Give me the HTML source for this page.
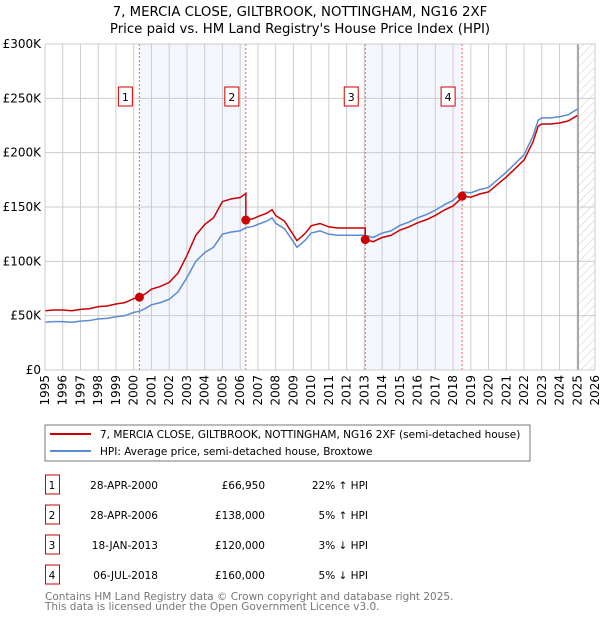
<!DOCTYPE html>
<html><head><meta charset="utf-8"><style>
body{margin:0;width:600px;height:620px;background:#fff;font-family:"DejaVu Sans","Liberation Sans",sans-serif;overflow:hidden}
svg text{font-family:"DejaVu Sans","Liberation Sans",sans-serif}
</style></head><body>
<svg id="c" width="600" height="620" xmlns="http://www.w3.org/2000/svg">
<defs><pattern id="hatch" width="6" height="6" patternUnits="userSpaceOnUse" patternTransform="rotate(45)"><line x1="0" y1="0" x2="0" y2="6" stroke="#ccc" stroke-width="1"/></pattern></defs>
<text x="300" y="16" text-anchor="middle" font-size="13.3">7, MERCIA CLOSE, GILTBROOK, NOTTINGHAM, NG16 2XF</text>
<text x="300" y="33" text-anchor="middle" font-size="13.3">Price paid vs. HM Land Registry's House Price Index (HPI)</text>
<g id="plot"></g>
<rect x="45" y="425" width="485" height="36" fill="#fff" stroke="#777"/>
<line x1="50" y1="434" x2="91" y2="434" stroke="#cc0000" stroke-width="2"/>
<text x="100" y="438" font-size="10.5">7, MERCIA CLOSE, GILTBROOK, NOTTINGHAM, NG16 2XF (semi-detached house)</text>
<line x1="50" y1="451" x2="91" y2="451" stroke="#5b8bd0" stroke-width="2"/>
<text x="100" y="455" font-size="10.5">HPI: Average price, semi-detached house, Broxtowe</text>
<g id="table" font-size="10.5"></g>
<text x="45" y="600" font-size="10.5" fill="#777">Contains HM Land Registry data © Crown copyright and database right 2025.</text>
<text x="45" y="610" font-size="10.5" fill="#777">This data is licensed under the Open Government Licence v3.0.</text>
</svg>
<script>
const hpiYears=[1995,1995.5,1996,1996.5,1997,1997.5,1998,1998.5,1999,1999.5,2000,2000.32,2000.7,2001,2001.5,2002,2002.5,2003,2003.5,2004,2004.5,2005,2005.5,2006,2006.32,2006.7,2007,2007.5,2007.8,2008,2008.5,2009,2009.2,2009.5,2009.7,2010,2010.5,2011,2011.5,2012,2012.5,2013,2013.05,2013.5,2014,2014.5,2015,2015.5,2016,2016.5,2017,2017.5,2018,2018.51,2019,2019.5,2020,2020.5,2021,2021.5,2022,2022.5,2022.8,2023,2023.5,2024,2024.5,2025];
const hpiValues=[44000,44500,44500,44000,45000,45500,47000,47500,49000,50000,53000,54000,57000,60000,62000,65000,72000,85000,100000,108000,113000,125000,127000,128000,131000,132000,134000,137000,140000,135000,130000,118000,113000,117000,120000,126000,128000,125000,124000,124000,124000,124000,124000,122000,126000,128000,133000,136000,140000,143000,147000,152000,156000,164000,163000,166000,168000,175000,182000,190000,198000,215000,230000,232000,232000,233000,235000,240000];
const saleDates=[2000.32,2006.32,2013.05,2018.51];
const salePrices=[66950,138000,120000,160000];
const saleLabels=["1","2","3","4"];
const saleDateText=["28-APR-2000","28-APR-2006","18-JAN-2013","06-JUL-2018"];
const salePriceText=["£66,950","£138,000","£120,000","£160,000"];
const saleHpiText=["22% ↑ HPI","5% ↑ HPI","3% ↓ HPI","5% ↓ HPI"];
const yTicks=[0,50000,100000,150000,200000,250000,300000];
const yTickLabels=["£0","£50K","£100K","£150K","£200K","£250K","£300K"];
const xTicks=[1995,1996,1997,1998,1999,2000,2001,2002,2003,2004,2005,2006,2007,2008,2009,2010,2011,2012,2013,2014,2015,2016,2017,2018,2019,2020,2021,2022,2023,2024,2025,2026];
const dataEnd=2025.05;

const NS="http://www.w3.org/2000/svg";
const X0=45,X1=595,Y0=370,Y1=44;
const xs=t=>X0+(t-1995)/(2026-1995)*(X1-X0);
const ys=v=>Y0-v/300000*(Y0-Y1);
const plot=document.getElementById('plot');
function mk(tag,attrs,parent){const e=document.createElementNS(NS,tag);for(const k in attrs)e.setAttribute(k,attrs[k]);(parent||plot).appendChild(e);return e;}
function hpiAt(t){for(let i=0;i<hpiYears.length-1;i++){if(t<=hpiYears[i+1]){const f=(t-hpiYears[i])/(hpiYears[i+1]-hpiYears[i]);return hpiValues[i]+f*(hpiValues[i+1]-hpiValues[i]);}}return hpiValues[hpiValues.length-1];}

for(let i=0;i<saleDates.length;i+=2){
  const b=mk('rect',{x:xs(saleDates[i]),y:Y1,width:xs(saleDates[i+1])-xs(saleDates[i]),height:Y0-Y1,fill:'#f3f6fd'});
  
  
}
const h=mk('rect',{x:xs(dataEnd),y:Y1,width:X1-xs(dataEnd),height:Y0-Y1,fill:'url(#hatch)'});


yTicks.forEach((v,i)=>{
  const l=mk('line',{x1:X0,x2:X1,y1:ys(v),y2:ys(v),stroke:'#ccc'});
  
  
  const t=mk('text',{x:X0-4,y:ys(v)+4,'text-anchor':'end','font-size':12});
  t.textContent=yTickLabels[i];
  
  
});
xTicks.forEach(y=>{
  const l=mk('line',{x1:xs(y),x2:xs(y),y1:Y1,y2:Y0,stroke:'#ccc'});
  
  
  const t=mk('text',{x:0,y:0,'text-anchor':'end','font-size':12,transform:`translate(${xs(y)+4},${Y0+5}) rotate(-90)`});
  t.textContent=y;
  
  
});
const el=mk('line',{x1:xs(dataEnd),x2:xs(dataEnd),y1:Y1,y2:Y0,stroke:'#999','stroke-width':1.5});


saleDates.forEach(d=>{
  const l=mk('line',{x1:xs(d),x2:xs(d),y1:Y1,y2:Y0,stroke:'#f06060','stroke-dasharray':'2,2'});
  
  
});
const hp=mk('polyline',{points:hpiYears.map((t,i)=>xs(t)+','+ys(hpiValues[i])).join(' '),fill:'none',stroke:'#5b8bd0','stroke-width':1.5});


function factorAt(t){let k=0;for(let i=0;i<saleDates.length;i++)if(t>=saleDates[i])k=i;return salePrices[k]/hpiAt(saleDates[k]);}
const rpts=[];
hpiYears.forEach((t,i)=>{
  saleDates.forEach((d,k)=>{if(k>0&&t>=d&&(i===0||hpiYears[i-1]<d)){rpts.push([d,hpiAt(d)*salePrices[k-1]/hpiAt(saleDates[k-1])]);rpts.push([d,salePrices[k]]);}});
  rpts.push([t,hpiValues[i]*factorAt(t)]);
});
const rp=mk('polyline',{points:rpts.map(p=>xs(p[0])+','+ys(p[1])).join(' '),fill:'none',stroke:'#cc0000','stroke-width':1.5});


saleDates.forEach((d,i)=>{
  const c=mk('circle',{cx:xs(d),cy:ys(salePrices[i]),r:4.5,fill:'#cc0000'});
  
  
  const r=mk('rect',{x:xs(d)-21,y:87,width:14,height:19,fill:'#fff',stroke:'#cc0000'});
  
  
  const t=mk('text',{x:xs(d)-14,y:101,'text-anchor':'middle','font-size':11});
  t.textContent=saleLabels[i];
  
  
});
const fr=mk('rect',{x:X0,y:Y1,width:X1-X0,height:Y0-Y1,fill:'none',stroke:'#ccc'});


const tb=document.getElementById('table');
saleDates.forEach((d,i)=>{
  const cy=483+i*30;
  const r=mk('rect',{x:45.5,y:cy-8,width:14,height:19,fill:'none',stroke:'#cc0000'},tb);
  
  
  const cells=[[52,'middle',saleLabels[i],'table-index'],[158,'end',saleDateText[i],'table-date'],[265,'end',salePriceText[i],'table-price'],[368,'end',saleHpiText[i],'table-hpi-diff']];
  cells.forEach(c=>{
    const t=mk('text',{x:c[0],y:cy+6,'text-anchor':c[1]},tb);
    t.textContent=c[2];
    
    
  });
});
</script>
</body></html>
